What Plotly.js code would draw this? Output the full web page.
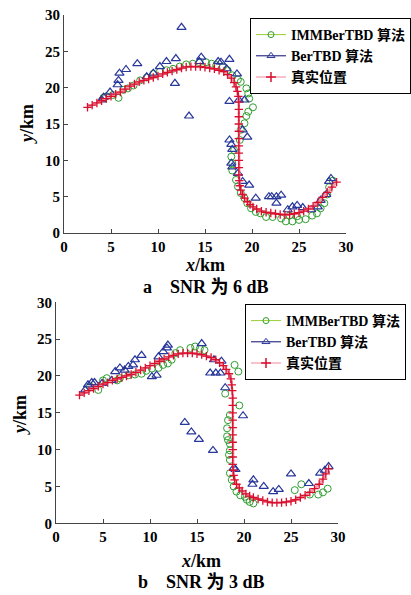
<!DOCTYPE html>
<html>
<head>
<meta charset="utf-8">
<script src="https://cdn.plot.ly/plotly-3.0.1.min.js"></script>
<style>html,body{margin:0;padding:0;background:#fff;}#chart{width:411px;height:595px;}</style>
</head>
<body>
<div id="chart"></div>
<script>
// ---------- data (km) ----------
const seriesNames = ["IMMBerTBD 算法", "BerTBD 算法", "真实位置"];
const captions = ["a\u2003SNR 为 6 dB", "b\u2003SNR 为 3 dB"];
const tickVals = [0, 5, 10, 15, 20, 25, 30];

// (a) SNR 6 dB
const truthA = [[2.5,17.3],[3.0,17.6],[3.5,17.9],[4.0,18.2],[4.5,18.5],[5.0,18.8],[5.5,19.1],[6.0,19.4],[6.5,19.8],[7.0,20.2],[7.5,20.5],[8.0,20.8],[8.5,21.0],[9.0,21.2],[9.5,21.4],[10.0,21.6],[10.5,21.9],[11.0,22.1],[11.5,22.3],[12.0,22.5],[12.5,22.7],[13.0,22.85],[13.5,22.9],[14.0,22.9],[14.5,22.9],[15.0,22.8],[15.5,22.7],[16.0,22.6],[16.5,22.4],[17.0,22.2],[17.4,21.8],[17.8,21.3],[18.1,20.7],[18.3,20.1],[18.45,19.5],[18.55,18.8],[18.6,18.0],[18.6,17.0],[18.6,16.0],[18.6,15.0],[18.6,14.0],[18.6,13.0],[18.6,12.0],[18.6,11.0],[18.6,10.0],[18.6,9.0],[18.6,8.0],[18.65,7.2],[18.7,6.5],[18.8,5.9],[19.0,5.3],[19.2,4.8],[19.5,4.3],[19.8,3.9],[20.1,3.6],[20.5,3.3],[21.0,3.0],[21.5,2.85],[22.0,2.75],[22.5,2.65],[23.0,2.55],[23.5,2.5],[24.0,2.55],[24.5,2.65],[25.0,2.8],[25.5,3.0],[26.0,3.3],[26.5,3.7],[27.0,4.2],[27.5,4.9],[28.0,5.6],[28.5,6.3],[29.0,7.0]];
const immA = [[4.2,18.6],[4.5,18.8],[5.2,19.0],[5.8,18.6],[6.3,19.7],[6.8,19.9],[7.4,20.3],[8.1,21.0],[8.8,21.4],[9.5,21.9],[10.2,22.2],[10.9,22.4],[11.6,22.6],[12.3,22.9],[13.0,23.2],[13.7,23.3],[14.4,23.5],[15.1,23.5],[15.7,23.3],[16.2,23.1],[16.9,22.9],[17.4,22.4],[17.9,21.7],[18.5,21.1],[18.8,20.8],[19.4,19.9],[19.6,19.2],[19.7,18.5],[20.1,17.3],[19.6,16.7],[19.4,16.1],[19.2,15.1],[18.8,14.2],[18.7,12.8],[18.1,11.4],[17.8,10.5],[17.9,9.6],[17.9,8.6],[18.3,7.3],[18.5,6.4],[18.8,5.5],[19.2,4.8],[19.5,4.1],[19.9,3.4],[20.4,2.9],[20.9,2.7],[21.5,2.2],[22.2,2.2],[23.1,2.0],[23.6,1.6],[24.3,1.6],[25.0,1.8],[25.7,1.9],[26.4,2.4],[26.9,2.7],[27.3,3.4],[27.7,4.1],[28.0,5.3],[28.2,6.3],[28.6,7.2],[24.0,2.4],[24.8,2.3]];
const berA = [[4.0,18.3],[4.2,18.7],[4.9,19.4],[5.7,20.4],[5.8,21.0],[5.9,22.0],[6.6,22.5],[7.8,23.3],[8.8,21.5],[9.5,22.0],[10.2,22.9],[10.9,23.6],[11.9,24.0],[11.8,20.6],[12.5,28.3],[13.3,16.1],[14.4,23.6],[14.6,24.2],[16.4,23.6],[16.7,23.5],[17.6,23.9],[17.3,22.6],[18.4,21.9],[17.6,18.1],[18.6,18.3],[19.2,18.3],[19.0,14.2],[19.5,13.2],[17.6,12.8],[17.8,12.2],[17.9,11.5],[17.8,9.6],[17.9,9.1],[18.5,8.2],[19.0,7.1],[19.7,6.6],[20.4,4.8],[21.8,5.0],[22.1,5.0],[22.6,5.0],[22.6,4.1],[23.1,5.2],[23.8,3.2],[24.3,3.6],[24.8,3.8],[25.4,3.5],[26.3,3.2],[27.0,3.6],[27.3,4.5],[27.9,5.3],[28.2,7.1],[28.4,7.5]];

// (b) SNR 3 dB
const truthB = [[2.5,17.4],[3.0,17.7],[3.5,18.0],[4.0,18.3],[4.5,18.6],[5.0,18.9],[5.5,19.1],[6.0,19.4],[6.5,19.6],[7.0,19.8],[7.5,20.0],[8.0,20.2],[8.5,20.5],[9.0,20.8],[9.5,21.1],[10.0,21.4],[10.5,21.7],[11.0,22.0],[11.5,22.3],[12.0,22.6],[12.5,22.8],[13.0,23.0],[13.5,23.1],[14.0,23.1],[14.5,23.1],[15.0,23.0],[15.5,22.9],[16.0,22.7],[16.5,22.5],[17.0,22.2],[17.4,21.8],[17.8,21.4],[18.1,20.9],[18.4,20.3],[18.6,19.6],[18.7,18.8],[18.75,18.0],[18.8,17.0],[18.8,16.0],[18.8,15.0],[18.8,14.0],[18.8,13.0],[18.8,12.0],[18.8,11.0],[18.8,10.0],[18.8,9.0],[18.8,8.0],[18.85,7.2],[18.9,6.5],[19.0,5.9],[19.2,5.3],[19.5,4.8],[19.8,4.4],[20.2,4.0],[20.6,3.7],[21.0,3.5],[21.5,3.3],[22.0,3.1],[22.5,2.9],[23.0,2.8],[23.5,2.8],[24.0,2.8],[24.5,2.9],[25.0,3.0],[25.5,3.2],[26.0,3.5],[26.5,3.8],[27.0,4.2],[27.5,4.7],[28.0,5.3],[28.4,6.0],[28.7,6.7],[29.0,7.4]];
const immB = [[3.6,18.6],[4.5,18.1],[5.0,19.4],[5.4,19.7],[6.5,19.4],[6.8,19.7],[7.7,20.1],[8.4,20.2],[9.1,20.3],[9.6,20.7],[10.2,21.0],[10.9,21.1],[11.4,21.5],[11.9,21.7],[12.3,22.2],[12.7,23.1],[13.2,23.5],[14.3,23.8],[14.8,24.0],[15.3,23.7],[15.8,23.5],[19.0,21.5],[19.4,20.6],[18.0,17.6],[19.5,16.0],[18.5,14.7],[18.3,14.0],[18.2,12.9],[18.2,11.8],[18.3,11.3],[18.5,10.8],[18.5,9.9],[18.4,9.3],[18.5,8.6],[18.5,6.8],[18.7,5.9],[18.9,5.0],[19.2,4.3],[19.6,3.8],[20.1,3.6],[20.3,3.2],[20.6,2.9],[21.0,2.7],[25.4,4.5],[26.1,5.3],[27.0,3.9],[27.9,3.9],[28.4,4.2],[28.9,4.7]];
const berB = [[3.1,18.1],[3.4,18.8],[3.8,19.1],[4.1,19.1],[4.9,19.0],[5.9,19.4],[6.3,20.6],[6.8,21.1],[7.3,20.8],[7.7,21.3],[8.2,21.5],[8.4,22.2],[9.1,22.8],[10.2,19.9],[10.7,20.1],[10.9,22.6],[11.4,23.3],[11.8,23.8],[11.9,24.2],[15.5,24.4],[16.4,20.4],[17.0,20.4],[17.5,20.4],[16.8,22.2],[17.6,22.0],[18.0,18.4],[13.7,13.7],[14.4,12.4],[15.2,11.4],[16.7,9.9],[19.9,14.6],[18.9,7.5],[19.1,7.3],[21.0,5.9],[20.9,5.3],[22.1,5.0],[23.1,4.3],[23.7,4.6],[25.0,6.7],[26.9,5.4],[28.1,6.8],[28.6,7.2],[29.0,7.7]];

// ---------- styling ----------
const serif = "Liberation Serif, Noto Sans CJK SC, serif";
const cIMMLine = "#9acd32", cIMMMark = "#2e9e2e";
const cBerLine = "#0a0a70", cBerMark = "#28379a";
const cTruthLine = "#f59aae", cTruthMark = "#d8102e";

function xs(p){return p.map(d=>d[0]);}
function ys(p){return p.map(d=>d[1]);}

function panelTraces(imm, ber, truth, xa, ya, leg){
  return [
    {type:"scatter", mode:"markers", x:xs(imm), y:ys(imm), xaxis:xa, yaxis:ya, showlegend:false,
     marker:{symbol:"circle-open", size:7, color:cIMMMark, line:{width:1}}},
    {type:"scatter", mode:"markers", x:xs(ber), y:ys(ber), xaxis:xa, yaxis:ya, showlegend:false,
     marker:{symbol:"triangle-up-open", size:8, color:cBerMark, line:{width:1.2}}},
    {type:"scatter", mode:"lines+markers", x:xs(truth), y:ys(truth), xaxis:xa, yaxis:ya, showlegend:false,
     line:{color:cTruthLine, width:2.5},
     marker:{symbol:"cross-thin-open", size:6, color:cTruthMark, line:{width:1.3, color:cTruthMark}}},
    {type:"scatter", mode:"lines+markers", x:[null], y:[null], xaxis:xa, yaxis:ya, name:seriesNames[0], legend:leg,
     line:{color:cIMMLine, width:1}, marker:{symbol:"circle-open", size:6, color:cIMMMark}},
    {type:"scatter", mode:"lines+markers", x:[null], y:[null], xaxis:xa, yaxis:ya, name:seriesNames[1], legend:leg,
     line:{color:cBerLine, width:1}, marker:{symbol:"triangle-up-open", size:7, color:cBerMark}},
    {type:"scatter", mode:"lines+markers", x:[null], y:[null], xaxis:xa, yaxis:ya, name:seriesNames[2], legend:leg,
     line:{color:cTruthLine, width:1.2}, marker:{symbol:"cross-thin-open", size:7, color:cTruthMark, line:{width:1.5, color:cTruthMark}}}
  ];
}

const data = [].concat(
  panelTraces(immA, berA, truthA, "x", "y", "legend"),
  panelTraces(immB, berB, truthB, "x2", "y2", "legend2")
);

const W = 411, H = 595;
function axis(domain, anchor){
  return {domain:domain, anchor:anchor, range:[0,30], tickvals:tickVals, ticktext:tickVals.map(String),
    showline:true, linecolor:"#444", linewidth:1, ticks:"inside", ticklen:4, tickcolor:"#444",
    showgrid:false, zeroline:false, mirror:false, fixedrange:true, automargin:false,
    tickfont:{family:serif, size:15, color:"#000", weight:"bold"}};
}

const legendBase = {xanchor:"left", yanchor:"top", bgcolor:"#fff", bordercolor:"#000", borderwidth:1,
  font:{family:serif, size:14, color:"#000", weight:"bold"}, itemwidth:30, tracegroupgap:0};

const tf = {family:serif, size:18, color:"#000"};
function ann(x, y, text, angle){
  return {xref:"paper", yref:"paper", x:x/W, y:1-y/H, xanchor:"center", yanchor:"middle",
          text:text, textangle:angle || 0, showarrow:false, font:tf};
}
const layout = {
  width:W, height:H, margin:{l:0, r:0, t:0, b:0, autoexpand:false}, paper_bgcolor:"#fff", plot_bgcolor:"#fff",
  xaxis: axis([64/W, 346/W], "y"),
  yaxis: axis([1-233/H, 1-15/H], "x"),
  xaxis2: axis([56/W, 338/W], "y2"),
  yaxis2: axis([1-523.3/H, 1-302.3/H], "x2"),
  legend: Object.assign({}, legendBase, {x:250/W, y:1-18/H}),
  legend2: Object.assign({}, legendBase, {x:245/W, y:1-304/H}),
  annotations: [
    ann(205, 265, "<b><i>x</i>/km</b>"),
    ann(27, 124, "<b><i>y</i>/km</b>", -90),
    ann(206, 287, "<b>" + captions[0] + "</b>"),
    ann(201, 561, "<b><i>x</i>/km</b>"),
    ann(20, 415, "<b><i>y</i>/km</b>", -90),
    ann(201, 582, "<b>" + captions[1] + "</b>")
  ]
};

Plotly.newPlot("chart", data, layout, {staticPlot:true, displayModeBar:false});
</script>
</body>
</html>
